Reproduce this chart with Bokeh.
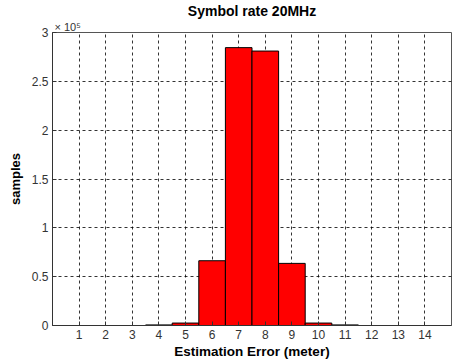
from bokeh.plotting import figure
from bokeh.models import FixedTicker, Range1d, Title
from bokeh.embed import file_html
from bokeh.resources import INLINE

# Data (samples in units of 10^5)
bins = [3, 4, 5, 6, 7, 8, 9, 10, 11, 12]
counts = [0.0, 0.006, 0.025, 0.663, 2.845, 2.81, 0.636, 0.025, 0.006, 0.0]
x_ticks = list(range(1, 15))
y_ticks = [0, 0.5, 1, 1.5, 2, 2.5, 3]
y_tick_labels = ["0", "0.5", "1", "1.5", "2", "2.5", "3"]

FONT = "Liberation Sans"

p = figure(width=452, height=361, output_backend="svg", toolbar_location=None,
           x_range=Range1d(0, 15), y_range=Range1d(0, 3), title=None,
           min_border_left=52, min_border_right=1, min_border_top=31, min_border_bottom=36)

scale_title = Title(text="× 10⁵", align="left", offset=2, standoff=0,
                    text_font=FONT, text_font_size="11px", text_font_style="normal",
                    text_color="#333333")
main_title = Title(text="Symbol rate 20MHz", align="center", offset=0, standoff=0,
                   text_font=FONT, text_font_size="14px", text_font_style="bold",
                   text_color="black")
p.add_layout(scale_title, "above")
p.add_layout(main_title, "above")

p.vbar(x=bins, width=1, top=counts, bottom=0, fill_color="#ff0000",
       line_color="black", line_width=1)

p.xaxis.ticker = FixedTicker(ticks=x_ticks)
p.yaxis.ticker = FixedTicker(ticks=y_ticks)
p.yaxis.major_label_overrides = {t: l for t, l in zip(y_ticks, y_tick_labels)}

for ax in (p.xaxis[0], p.yaxis[0]):
    ax.major_label_text_font = FONT
    ax.major_label_text_font_size = "12px"
    ax.major_label_text_color = "#333333"
    ax.axis_label_text_font = FONT
    ax.axis_label_text_font_style = "bold"
    ax.axis_label_text_color = "black"
    ax.major_tick_in = 4
    ax.major_tick_out = 0
    ax.minor_tick_line_color = None
    ax.axis_line_color = "#333333"
    ax.major_tick_line_color = "#333333"

p.xaxis.axis_label = "Estimation Error (meter)"
p.yaxis.axis_label = "samples"
p.xaxis.axis_label_text_font_size = "13.5px"
p.yaxis.axis_label_text_font_size = "13px"
p.xaxis.axis_label_standoff = 2
p.yaxis.axis_label_standoff = 6
p.xaxis.major_label_standoff = 4
p.yaxis.major_label_standoff = 4

p.xgrid.ticker = FixedTicker(ticks=x_ticks)
p.ygrid.ticker = FixedTicker(ticks=y_ticks)
p.grid.grid_line_color = "black"
p.grid.grid_line_dash = "3 3"
p.grid.grid_line_width = 1
p.grid.grid_line_alpha = 0.8

p.outline_line_color = "#555555"
p.outline_line_width = 1
p.background_fill_color = "white"
p.border_fill_color = "white"

open("out.html", "w").write(file_html(p, INLINE))
